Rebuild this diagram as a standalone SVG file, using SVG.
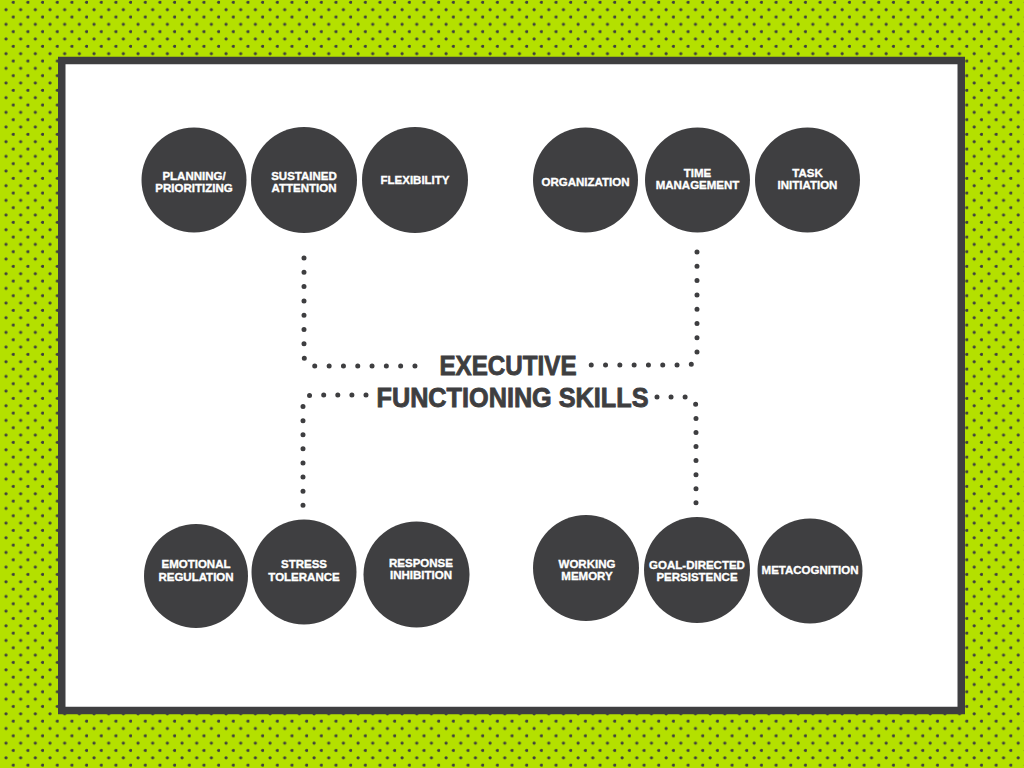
<svg xmlns="http://www.w3.org/2000/svg" width="1024" height="768" viewBox="0 0 1024 768">
  <defs>
    <pattern id="dots" width="14.67" height="14.67" patternUnits="userSpaceOnUse">
      <rect width="14.67" height="14.67" fill="#b4e000"/>
      <circle cx="13.3" cy="2.3" r="1.6" fill="#3e3e40"/>
      <circle cx="6" cy="9.6" r="1.6" fill="#3e3e40"/>
    </pattern>
    <style>
      .node circle { fill: #3f3f41; }
      .node text { fill: #ffffff; stroke: #ffffff; stroke-width: 0.35; font-family: "Liberation Sans", Arial, sans-serif; font-weight: bold; font-size: 11.5px; text-anchor: middle; }
      .conn { fill: none; stroke: #3e3e40; stroke-width: 5; stroke-linecap: round; }
      .title { fill: #3e3e40; stroke: #3e3e40; stroke-width: 0.9; font-family: "Liberation Sans", Arial, sans-serif; font-weight: bold; font-size: 28px; text-anchor: middle; }
    </style>
  </defs>

  <rect x="0" y="0" width="1024" height="768" fill="url(#dots)"/>
  <rect x="61.75" y="60.5" width="899.5" height="650" fill="#ffffff" stroke="#3e3e40" stroke-width="7.5"/>

  <g id="connectors">
    <path class="conn" stroke-dasharray="0 14.3" d="M304,258 V355 Q304,366 316,366 H417"/>
    <path class="conn" stroke-dasharray="0 14.3" d="M697,252 V354 Q697,365 686,365 H589"/>
    <path class="conn" stroke-dasharray="0 14.1" d="M366,395 H313 Q303,395 303,406 V507"/>
    <path class="conn" stroke-dasharray="0 14.05" d="M657,397 H685 Q696,397 696,408 V505"/>
  </g>

  <g id="title">
    <text class="title" x="508" y="375" textLength="137" lengthAdjust="spacingAndGlyphs">EXECUTIVE</text>
    <text class="title" x="512.5" y="407" textLength="272" lengthAdjust="spacingAndGlyphs">FUNCTIONING SKILLS</text>
  </g>

  <g id="planning" class="node">
    <circle cx="194" cy="180" r="52.5"/>
    <text x="194" y="180">PLANNING/</text>
    <text x="194" y="192">PRIORITIZING</text>
  </g>
  <g id="sustained-attention" class="node">
    <circle cx="304" cy="180" r="53"/>
    <text x="304" y="180">SUSTAINED</text>
    <text x="304" y="192">ATTENTION</text>
  </g>
  <g id="flexibility" class="node">
    <circle cx="415" cy="180" r="53"/>
    <text x="415" y="184">FLEXIBILITY</text>
  </g>
  <g id="organization" class="node">
    <circle cx="585.5" cy="180" r="52.5"/>
    <text x="585.5" y="186">ORGANIZATION</text>
  </g>
  <g id="time-management" class="node">
    <circle cx="697.5" cy="180" r="52.5"/>
    <text x="697.5" y="177">TIME</text>
    <text x="697.5" y="189">MANAGEMENT</text>
  </g>
  <g id="task-initiation" class="node">
    <circle cx="807.5" cy="180" r="52.5"/>
    <text x="807.5" y="176.5">TASK</text>
    <text x="807.5" y="188.5">INITIATION</text>
  </g>

  <g id="emotional-regulation" class="node">
    <circle cx="196" cy="576" r="52"/>
    <text x="196" y="568">EMOTIONAL</text>
    <text x="196" y="580.5">REGULATION</text>
  </g>
  <g id="stress-tolerance" class="node">
    <circle cx="304" cy="572" r="52.5"/>
    <text x="304" y="568">STRESS</text>
    <text x="304" y="580.5">TOLERANCE</text>
  </g>
  <g id="response-inhibition" class="node">
    <circle cx="416.5" cy="574.5" r="53"/>
    <text x="421" y="567">RESPONSE</text>
    <text x="421" y="579">INHIBITION</text>
  </g>
  <g id="working-memory" class="node">
    <circle cx="586" cy="568" r="53"/>
    <text x="587" y="568">WORKING</text>
    <text x="587" y="580">MEMORY</text>
  </g>
  <g id="goal-directed-persistence" class="node">
    <circle cx="697" cy="570" r="53"/>
    <text x="697" y="569">GOAL-DIRECTED</text>
    <text x="697" y="580.5">PERSISTENCE</text>
  </g>
  <g id="metacognition" class="node">
    <circle cx="810" cy="571" r="52.5"/>
    <text x="810" y="574">METACOGNITION</text>
  </g>
</svg>
